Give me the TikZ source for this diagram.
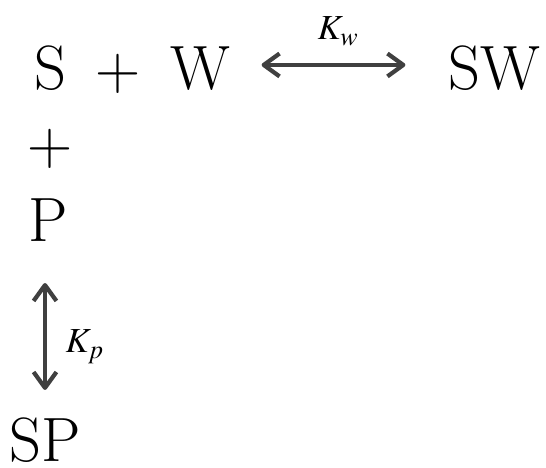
\documentclass[tikz,border=0pt]{standalone}
\usepackage{mathptmx}
\usetikzlibrary{arrows.meta}

\definecolor{arrowgray}{HTML}{404040}

\tikzset{
    species/.style={font=\fontsize{17.8}{21}\selectfont, inner sep=0pt, anchor=base},
    rate/.style={font=\fontsize{10}{12}\selectfont, inner sep=0pt, anchor=base west},
    eqarrow/.style={draw=arrowgray, line width=1.2pt, line cap=round,
        {Straight Barb[length=4.5pt, width=6.5pt, line join=round]}-{Straight Barb[length=4.5pt, width=6.5pt, line join=round]}}
}

\begin{document}
\begin{tikzpicture}[x=0.01cm, y=0.01cm]
    \useasboundingbox (0,0) rectangle (546,468);

    % first row: S + W <-> SW
    \node[species] (S) at (50,378) {S};
    \node[species] (plusW) at (118,378) {+};
    \node[species] (W) at (200,378) {W};
    \node[species] (SW) at (494,378) {SW};
    \draw[eqarrow, shorten <=0.31cm, shorten >=0.42cm]
        ([yshift=0.25cm]W.base east) -- ([yshift=0.25cm]SW.base west);
    \node[rate] (kw) at (317,428) {$K_w$};

    % column: + P <-> SP
    \node[species] (plusP) at (50,303) {+};
    \node[species] (P) at (48.5,226) {P};
    \node[species] (SP) at (45,6) {SP};
    \draw[eqarrow, shorten <=0.41cm, shorten >=0.72cm] (SP.base |- P.base) -- (SP.base);
    \node[rate] (kp) at (65,115) {$K_p$};
\end{tikzpicture}
\end{document}
